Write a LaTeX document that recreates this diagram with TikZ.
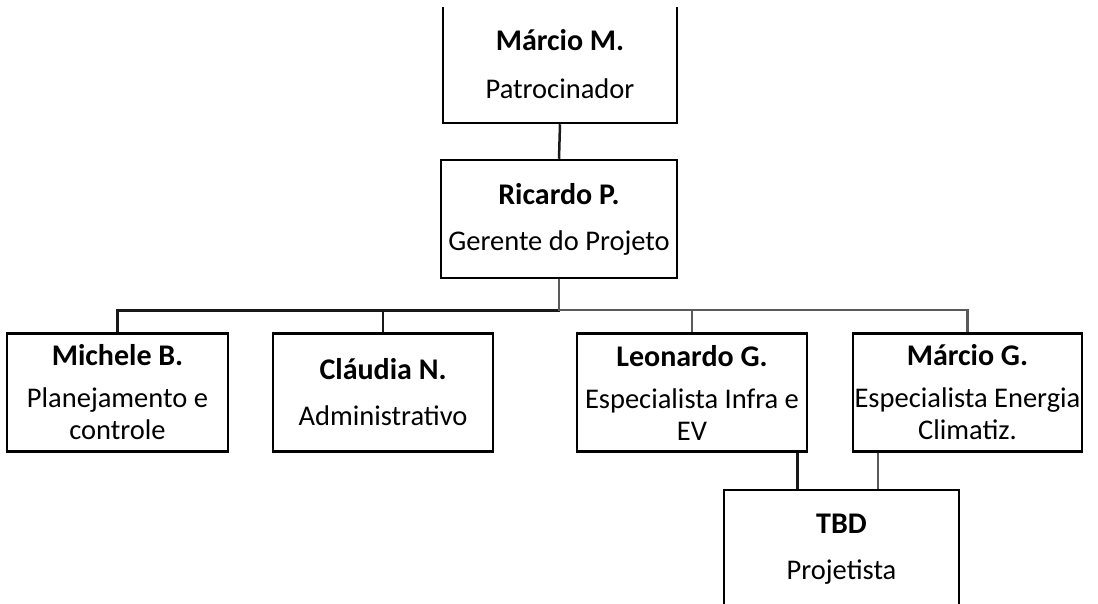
\documentclass[tikz,border=0pt]{standalone}
\usepackage{fontspec}
\setmainfont{Carlito}
\usetikzlibrary{positioning, calc}
\definecolor{linegray}{HTML}{5A5A5A}
\newcommand{\pname}[1]{{\fontsize{30}{32}\selectfont\bfseries #1}}

\begin{document}
\begin{tikzpicture}[
      x=1pt, y=-1pt,
      every node/.style={font=\fontsize{28.5}{32}\selectfont},
      person/.style={draw, line width=2.5pt, minimum width=#1,
                     minimum height=118pt, align=center, inner sep=0pt},
      link/.style={line width=2.5pt, draw=black!90},
      glink/.style={line width=2.2pt, draw=linegray},
    ]
    \useasboundingbox (0,0) rectangle (1098,603);
    \clip (0,7) rectangle (1098,603);

    % People
    \node[person=234pt] (marcioM)  at (560, 64)    {\pname{Márcio M.}\\[16pt]Patrocinador};
    \node[person=236pt] (ricardo)  at (559, 219)   {\pname{Ricardo P.}\\[14pt]Gerente do Projeto};
    \node[person=221pt] (michele)  at (117.5, 392.5)
      {\pname{Michele B.}\\[10pt]Planejamento e\\controle};
    \node[person=220pt] (claudia)  at (383, 392.5) {\pname{Cláudia N.}\\[14pt]Administrativo};
    \node[person=230pt] (leonardo) at (692, 392.5)
      {\pname{Leonardo G.}\\[10pt]Especialista Infra e\\EV};
    \node[person=229pt] (marcioG)  at (967.5, 392.5)
      {\pname{Márcio G.}\\[10pt]Especialista Energia\\Climatiz.};
    \node[person=235pt] (tbd)      at (841.5, 549) {\pname{TBD}\\[14pt]Projetista};

    % Connections
    \draw[link] (marcioM.south) -- (ricardo.north);
    \draw[link] (ricardo.south) -- ++(0,31) -| (michele.north);
    \draw[link] (ricardo.south) -- ++(0,31) -| (claudia.north);
    \draw[glink] (ricardo.south) -- ++(0,31) -| (leonardo.north);
    \draw[glink] (ricardo.south) -- ++(0,31) -| (marcioG.north);

    \coordinate (lg) at ([xshift=-11pt]leonardo.south east);
    \coordinate (mg) at ([xshift=26pt]marcioG.south west);
    \draw[link] (lg) -- (lg |- tbd.north);
    \draw[glink] (mg) -- (mg |- tbd.north);
\end{tikzpicture}
\end{document}
